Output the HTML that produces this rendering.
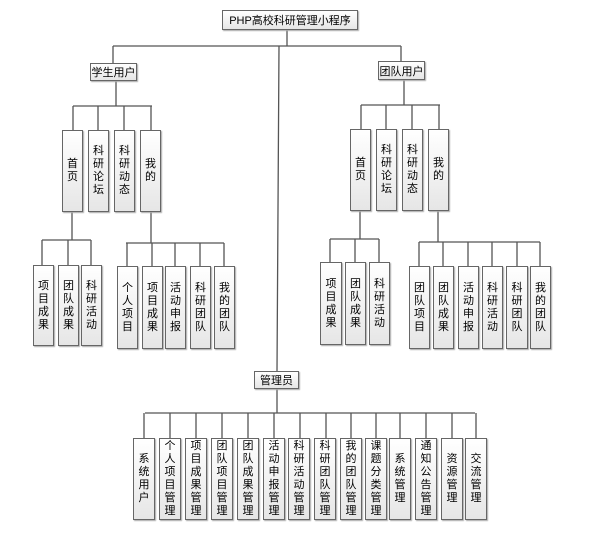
<!DOCTYPE html>
<html><head><meta charset="utf-8"><style>
body{margin:0;background:#fff;width:616px;height:535px;position:relative;overflow:hidden;font-family:"Liberation Sans","Noto Sans CJK SC",sans-serif;}
.b{position:absolute;box-sizing:border-box;border:1.5px solid #666;background:linear-gradient(#fff,#e6e6e6);box-shadow:1px 1px 1px #aaa;display:flex;align-items:center;justify-content:center;font-size:11px;color:#000;}
.v span{display:block;width:12px;line-height:13px;text-align:center;word-break:break-all;}
svg{position:absolute;left:0;top:0}
</style></head><body>
<svg width="616" height="535"><g stroke="#555" stroke-width="1.3" fill="none">
<path d="M287 30V46M113 46H401M113 46V63M401 46V61M279 46L277 371"/>
<path d="M116 81V106M73 106H152M73 106V130M98 106V130M124 106V130M151 106V130"/>
<path d="M72 212V240M42 240H91M42 240V265M68 240V265M91 240V265"/>
<path d="M151 212V243M126 243H224M127 243V266M152 243V266M175 243V266M200 243V266M224 243V266"/>
<path d="M404 80V105M361 105H440M361 105V129M386 105V129M412 105V129M439 105V129"/>
<path d="M360 211V239M330 239H379M330 239V262M355 239V262M379 239V262"/>
<path d="M438 211V242M419 242H540M419 242V266M443 242V266M468 242V266M492 242V266M517 242V266M540 242V266"/>
<path d="M277 389V413M145 413H475M144 413V438M170 413V438M196 413V438M222 413V438M248 413V438M274 413V438M300 413V438M326 413V438M351 413V438M376 413V438M400 413V438M426 413V438M452 413V438M476 413V438"/>
</g></svg>
<div class="b" style="left:222px;top:10px;width:136px;height:20px">PHP高校科研管理小程序</div>
<div class="b" style="left:90px;top:63px;width:47px;height:18px">学生用户</div>
<div class="b" style="left:378px;top:61px;width:47px;height:19px">团队用户</div>
<div class="b" style="left:254px;top:371px;width:45px;height:18px">管理员</div>

<div class="b v" style="left:62px;top:130px;width:21px;height:82px"><span>首页</span></div>
<div class="b v" style="left:88px;top:130px;width:21px;height:82px"><span>科研论坛</span></div>
<div class="b v" style="left:114px;top:130px;width:21px;height:82px"><span>科研动态</span></div>
<div class="b v" style="left:140px;top:130px;width:21px;height:82px"><span>我的</span></div>

<div class="b v" style="left:33px;top:265px;width:21px;height:81px"><span>项目成果</span></div>
<div class="b v" style="left:58px;top:265px;width:21px;height:81px"><span>团队成果</span></div>
<div class="b v" style="left:81px;top:265px;width:21px;height:81px"><span>科研活动</span></div>

<div class="b v" style="left:117px;top:266px;width:21px;height:83px"><span>个人项目</span></div>
<div class="b v" style="left:142px;top:266px;width:21px;height:83px"><span>项目成果</span></div>
<div class="b v" style="left:165px;top:266px;width:21px;height:83px"><span>活动申报</span></div>
<div class="b v" style="left:190px;top:266px;width:21px;height:83px"><span>科研团队</span></div>
<div class="b v" style="left:214px;top:266px;width:21px;height:83px"><span>我的团队</span></div>

<div class="b v" style="left:350px;top:129px;width:21px;height:82px"><span>首页</span></div>
<div class="b v" style="left:376px;top:129px;width:21px;height:82px"><span>科研论坛</span></div>
<div class="b v" style="left:402px;top:129px;width:21px;height:82px"><span>科研动态</span></div>
<div class="b v" style="left:428px;top:129px;width:21px;height:82px"><span>我的</span></div>

<div class="b v" style="left:320px;top:262px;width:22px;height:83px"><span>项目成果</span></div>
<div class="b v" style="left:345px;top:262px;width:21px;height:83px"><span>团队成果</span></div>
<div class="b v" style="left:369px;top:262px;width:21px;height:83px"><span>科研活动</span></div>

<div class="b v" style="left:409px;top:266px;width:21px;height:83px"><span>团队项目</span></div>
<div class="b v" style="left:433px;top:266px;width:21px;height:83px"><span>团队成果</span></div>
<div class="b v" style="left:458px;top:266px;width:21px;height:83px"><span>活动申报</span></div>
<div class="b v" style="left:482px;top:266px;width:21px;height:83px"><span>科研活动</span></div>
<div class="b v" style="left:506px;top:266px;width:22px;height:83px"><span>科研团队</span></div>
<div class="b v" style="left:530px;top:266px;width:21px;height:83px"><span>我的团队</span></div>

<div class="b v" style="left:133px;top:438px;width:22px;height:82px"><span>系统用户</span></div>
<div class="b v" style="left:159px;top:438px;width:22px;height:82px"><span>个人项目管理</span></div>
<div class="b v" style="left:185px;top:438px;width:22px;height:82px"><span>项目成果管理</span></div>
<div class="b v" style="left:211px;top:438px;width:22px;height:82px"><span>团队项目管理</span></div>
<div class="b v" style="left:237px;top:438px;width:22px;height:82px"><span>团队成果管理</span></div>
<div class="b v" style="left:263px;top:438px;width:22px;height:82px"><span>活动申报管理</span></div>
<div class="b v" style="left:288px;top:438px;width:22px;height:82px"><span>科研活动管理</span></div>
<div class="b v" style="left:314px;top:438px;width:22px;height:82px"><span>科研团队管理</span></div>
<div class="b v" style="left:340px;top:438px;width:22px;height:82px"><span>我的团队管理</span></div>
<div class="b v" style="left:365px;top:438px;width:22px;height:82px"><span>课题分类管理</span></div>
<div class="b v" style="left:389px;top:438px;width:22px;height:82px"><span>系统管理</span></div>
<div class="b v" style="left:415px;top:438px;width:22px;height:82px"><span>通知公告管理</span></div>
<div class="b v" style="left:441px;top:438px;width:22px;height:82px"><span>资源管理</span></div>
<div class="b v" style="left:465px;top:438px;width:22px;height:82px"><span>交流管理</span></div>
</body></html>
